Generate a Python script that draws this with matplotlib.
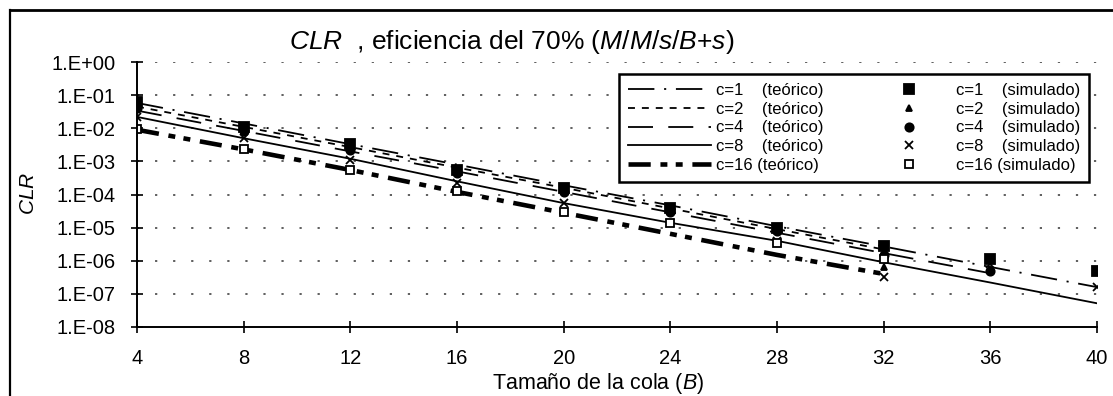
import numpy as np
import matplotlib
matplotlib.use("Agg")
import matplotlib.pyplot as plt
from matplotlib.lines import Line2D

plt.rcParams['font.family'] = ['Liberation Sans', 'DejaVu Sans']
plt.rcParams['mathtext.fontset'] = 'custom'
plt.rcParams['mathtext.rm'] = 'Liberation Sans'
plt.rcParams['mathtext.it'] = 'Liberation Sans:italic'
plt.rcParams['lines.scale_dashes'] = False

nan = np.nan
B = [4, 8, 12, 16, 20, 24, 28, 32, 36, 40]

# theoretical curves
teo_c1 = [5.8e-2, 1.4e-2, 3.3e-3, 8.0e-4, 1.9e-4, 4.7e-5, 1.1e-5, 2.7e-6, 6.5e-7, 1.6e-7]
teo_c2 = [4.5e-2, 1.1e-2, 2.7e-3, 6.5e-4, 1.6e-4, 3.8e-5, 9.0e-6, 2.2e-6, nan, nan]
teo_c4 = [3.4e-2, 8.3e-3, 2.0e-3, 5.0e-4, 1.2e-4, 2.9e-5, 7.0e-6, 1.7e-6, 4.2e-7, nan]
teo_c8 = [2.2e-2, 5.0e-3, 1.2e-3, 2.5e-4, 5.5e-5, 1.4e-5, 4.0e-6, 9.0e-7, 2.2e-7, 5.2e-8]
teo_c16 = [9.0e-3, 2.3e-3, 5.5e-4, 1.2e-4, 2.8e-5, 6.5e-6, 1.5e-6, 4.0e-7, nan, nan]

# simulated points
sim_c1 = [6.0e-2, 1.1e-2, 3.3e-3, 5.5e-4, 1.6e-4, 3.9e-5, 1.0e-5, 2.8e-6, 1.1e-6, 5.0e-7]
sim_c2 = [4.5e-2, 9.0e-3, 2.5e-3, 5.0e-4, 1.3e-4, 3.3e-5, 8.0e-6, 6.4e-7, nan, nan]
sim_c4 = [4.0e-2, 8.0e-3, 2.2e-3, 4.5e-4, 1.2e-4, 3.0e-5, 8.0e-6, 1.5e-6, 5.0e-7, nan]
sim_c8 = [2.2e-2, 5.0e-3, 1.1e-3, 2.3e-4, 5.5e-5, 1.4e-5, 4.0e-6, 3.2e-7, 8.0e-7, 1.6e-7]
sim_c16 = [9.5e-3, 2.3e-3, 5.5e-4, 1.3e-4, 3.0e-5, 1.4e-5, 3.5e-6, 1.1e-6, nan, nan]

xticks = [4, 8, 12, 16, 20, 24, 28, 32, 36, 40]
yticks = [1e0, 1e-1, 1e-2, 1e-3, 1e-4, 1e-5, 1e-6, 1e-7, 1e-8]
ylabels = ['1.E+00', '1.E-01', '1.E-02', '1.E-03', '1.E-04', '1.E-05', '1.E-06', '1.E-07', '1.E-08']

W, H = 1113, 396
fig = plt.figure(figsize=(W / 100, H / 100), dpi=100)
ax = fig.add_axes([137 / W, 1 - 327 / H, 960 / W, 265 / H])

teo_styles = [
    (teo_c1, (0, (19, 7, 1.5, 7)), 1.3, 'c=1    (teórico)'),
    (teo_c2, (0, (5, 5)), 1.3, 'c=2    (teórico)'),
    (teo_c4, (0, (18, 11)), 1.3, 'c=4    (teórico)'),
    (teo_c8, '-', 1.3, 'c=8    (teórico)'),
    (teo_c16, (0, (16, 7, 5, 6, 5, 7)), 3.3, 'c=16 (teórico)'),
]
handles = []
for vals, ls, lw, lab in teo_styles:
    h, = ax.plot(B, vals, color='black', linestyle=ls, linewidth=lw, label=lab)
    handles.append(h)

sim_styles = [
    (sim_c1, 's', 'black', 6.5, 'c=1    (simulado)'),
    (sim_c2, '^', 'black', 5, 'c=2    (simulado)'),
    (sim_c4, 'o', 'black', 6, 'c=4    (simulado)'),
    (sim_c8, 'x', 'none', 6, 'c=8    (simulado)'),
    (sim_c16, 's', 'white', 6, 'c=16 (simulado)'),
]
for vals, mk, fc, ms, lab in sim_styles:
    h, = ax.plot(B, vals, linestyle='none', marker=mk, markersize=ms,
                 markerfacecolor=fc, markeredgecolor='black', markeredgewidth=1.3,
                 label=lab)
    handles.append(h)

ax.set_yscale('log')
ax.set_xlim(4, 40)
ax.set_ylim(1e-8, 1)
ax.set_xticks(xticks)
ax.set_xticklabels([str(x) for x in xticks])
ax.set_yticks(yticks)
ax.set_yticklabels(ylabels)
ax.yaxis.set_minor_locator(matplotlib.ticker.NullLocator())
ax.tick_params(axis='both', direction='inout', length=9, width=1.2, labelsize=14.5,
               colors='black')
ax.tick_params(axis='x', pad=11)
ax.tick_params(axis='y', pad=11)

for s in ['top', 'right']:
    ax.spines[s].set_visible(False)
for s in ['left', 'bottom']:
    ax.spines[s].set_linewidth(1.4)
    ax.spines[s].set_zorder(5)

for yv in yticks[:-1]:
    ax.axhline(yv, color='#333333', linewidth=1.1, linestyle=(0, (1.6, 11.4)), zorder=0)

ax.set_ylabel('$CLR$', fontsize=15)
ax.yaxis.set_label_coords(-0.103, 0.505)

fig.text(598 / W, 1 - 384 / H, 'Tamaño de la cola ($B$)', fontsize=15.5,
         ha='center', va='center')

fig.text(512 / W, 1 - 49 / H,
         r'$CLR$  , eficiencia del 70% ($M/M/s/B$+$s$)', fontsize=19,
         ha='center', va='baseline')

leg = ax.legend(handles=handles, ncol=2, loc='upper right',
                bbox_to_anchor=(0.992, 0.955), borderaxespad=0,
                fontsize=12, handlelength=5.0, handletextpad=0.3,
                columnspacing=2.6, labelspacing=0.22, borderpad=0.55,
                fancybox=False, framealpha=1, edgecolor='black')
leg.get_frame().set_linewidth(1.8)

# outer chart border (left and top edges visible)
fig.add_artist(Line2D([10 / W, 10 / W], [0, 1 - 10 / H], transform=fig.transFigure,
                      color='black', linewidth=1.6))
fig.add_artist(Line2D([10 / W, 1], [1 - 10 / H, 1 - 10 / H], transform=fig.transFigure,
                      color='black', linewidth=2.0))

fig.savefig('out.png', dpi=100)
